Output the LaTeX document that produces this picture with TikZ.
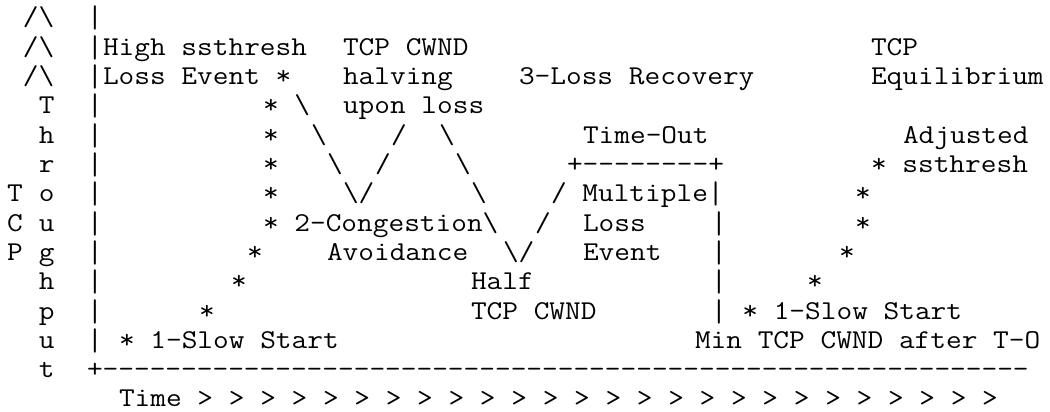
\documentclass[tikz,border=0pt]{standalone}
\usepackage{fontspec}
\setmonofont{Latin Modern Mono}[FakeStretch=1.12]
\newcommand{\bsl}{\textbackslash}
\newcommand{\vbar}{\raisebox{-1pt}{\scalebox{1}[1.15]{|}}}

\begin{document}
\begin{tikzpicture}[x=8pt, y=-14.65pt,
  asc/.style={font=\ttfamily\fontsize{13.605pt}{14.65pt}\selectfont, anchor=base west, inner sep=0pt, outer sep=0pt}]
\useasboundingbox[fill=white] (-3.5pt,-1.65pt) rectangle (521.5pt,-207.6pt);
% axes
\node[asc] (up1) at (1,1) {/\bsl};
\node[asc] (up2) at (1,2) {/\bsl};
\node[asc] (up3) at (1,3) {/\bsl};
\foreach \r in {1,...,12} \node[asc] (bar\r) at (5,\r) {\vbar};
\foreach \ch [count=\r from 4] in {T,h,r,o,u,g,h,p,u,t} \node[asc] (thr\r) at (2,\r) {\ch};
\foreach \ch [count=\r from 7] in {T,C,P} \node[asc] (tcp\r) at (0,\r) {\ch};
\node[asc] (orig) at (5,13) {+-----------------------------------------------------------};
\node[asc] (time) at (7,14) {Time > > > > > > > > > > > > > > > > > > > > > > > > > >};
%============
\node[asc] (highss) at (6,2) {High ssthresh};
\node[asc] (halvA) at (21,2) {TCP CWND};
\node[asc] (equiA) at (54,2) {TCP};
\node[asc] (lossev) at (6,3) {Loss Event *};
\node[asc] (halvB) at (21,3) {halving};
\node[asc] (recov) at (32,3) {3-Loss Recovery};
\node[asc] (equiB) at (54,3) {Equilibrium};
\node[asc] (s4) at (16,4) {* \bsl};
\node[asc] (halvC) at (21,4) {upon loss};
\node[asc] (s5) at (16,5) {*};
\node[asc] (d5a) at (19,5) {\bsl};
\node[asc] (u5) at (24,5) {/};
\node[asc] (d5b) at (27,5) {\bsl};
\node[asc] (tout) at (36,5) {Time-Out};
\node[asc] (adjA) at (56,5) {Adjusted};
\node[asc] (s6) at (16,6) {*};
\node[asc] (d6a) at (20,6) {\bsl};
\node[asc] (u6) at (23,6) {/};
\node[asc] (d6b) at (28,6) {\bsl};
\node[asc] (boxtop) at (35,6) {+--------+};
\node[asc] (adjB) at (54,6) {* ssthresh};
\node[asc] (s7) at (16,7) {*};
\node[asc] (v7) at (21,7) {\bsl/};
\node[asc] (d7) at (29,7) {\bsl};
\node[asc] (multi) at (34,7) {/ Multiple\vbar};
\node[asc] (e7) at (53,7) {*};
\node[asc] (cong) at (16,8) {* 2-Congestion\bsl};
\node[asc] (u8) at (33,8) {/};
\node[asc] (mloss) at (36,8) {Loss};
\node[asc] (box8) at (44,8) {\vbar};
\node[asc] (e8) at (53,8) {*};
\node[asc] (s9) at (15,9) {*};
\node[asc] (avoid) at (20,9) {Avoidance};
\node[asc] (v9) at (31,9) {\bsl/};
\node[asc] (mevent) at (36,9) {Event};
\node[asc] (box9) at (44,9) {\vbar};
\node[asc] (e9) at (52,9) {*};
\node[asc] (s10) at (14,10) {*};
\node[asc] (halfA) at (29,10) {Half};
\node[asc] (box10) at (44,10) {\vbar};
\node[asc] (e10) at (50,10) {*};
\node[asc] (s11) at (12,11) {*};
\node[asc] (halfB) at (29,11) {TCP CWND};
\node[asc] (slowB) at (44,11) {\vbar{} * 1-Slow Start};
\node[asc] (slowA) at (7,12) {* 1-Slow Start};
\node[asc] (mincw) at (43,12) {Min TCP CWND after T-O};
\end{tikzpicture}
\end{document}
